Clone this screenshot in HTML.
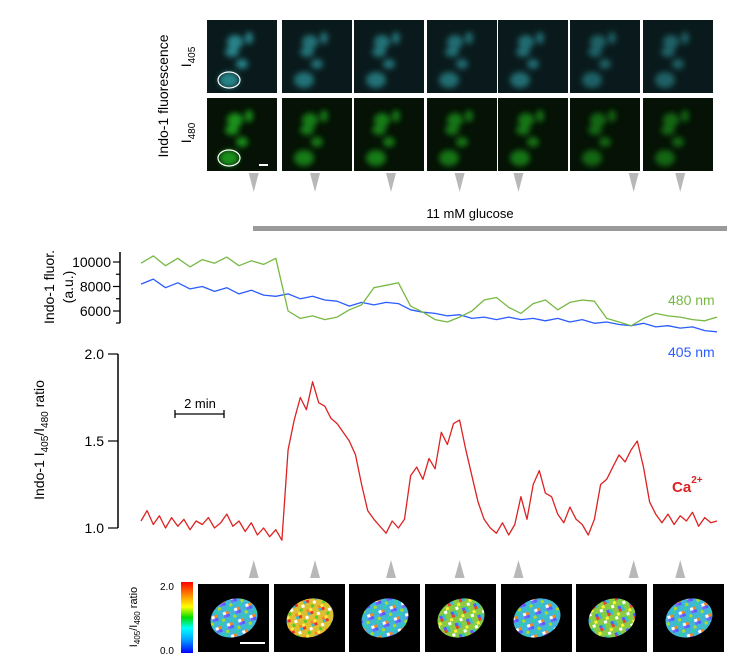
<!DOCTYPE html>
<html><head><meta charset="utf-8"><style>
body{margin:0;background:#fff;}
svg{display:block;font-family:"Liberation Sans",Arial,sans-serif;}
</style></head><body>
<svg id="fig" width="742" height="668" viewBox="0 0 742 668">
<defs>
 <filter id="blur" x="-50%" y="-50%" width="200%" height="200%"><feGaussianBlur stdDeviation="3"/></filter>
 <linearGradient id="jet" x1="0" y1="1" x2="0" y2="0">
  <stop offset="0" stop-color="#0000ff"/><stop offset="0.2" stop-color="#00aaff"/><stop offset="0.35" stop-color="#00ffff"/>
  <stop offset="0.5" stop-color="#00dd00"/><stop offset="0.65" stop-color="#ffff00"/><stop offset="0.82" stop-color="#ff8800"/><stop offset="1" stop-color="#ff0000"/>
 </linearGradient>
 <pattern id="speckA" width="12" height="12" patternUnits="userSpaceOnUse">
  <rect width="12" height="12" fill="#3fb8d8"/><rect x="0" y="0" width="3" height="3" fill="#5a5aff"/><rect x="6" y="3" width="3" height="3" fill="#aadd22"/><rect x="3" y="6" width="3" height="3" fill="#2fd0a0"/><rect x="9" y="9" width="3" height="3" fill="#ffffff"/><rect x="9" y="0" width="3" height="3" fill="#7766ff"/><rect x="0" y="9" width="3" height="3" fill="#ee8822"/>
 </pattern>
 <pattern id="speckB" width="12" height="12" patternUnits="userSpaceOnUse">
  <rect width="12" height="12" fill="#ddc030"/><rect x="0" y="0" width="3" height="3" fill="#ee3322"/><rect x="6" y="3" width="3" height="3" fill="#ffffff"/><rect x="3" y="6" width="3" height="3" fill="#55cc33"/><rect x="9" y="9" width="3" height="3" fill="#ff8822"/><rect x="9" y="0" width="3" height="3" fill="#3fb8d8"/><rect x="0" y="9" width="3" height="3" fill="#ffee44"/>
 </pattern>
 <pattern id="speckC" width="12" height="12" patternUnits="userSpaceOnUse">
  <rect width="12" height="12" fill="#88cc44"/><rect x="0" y="0" width="3" height="3" fill="#3fb8d8"/><rect x="6" y="3" width="3" height="3" fill="#ffee33"/><rect x="3" y="6" width="3" height="3" fill="#ffffff"/><rect x="9" y="9" width="3" height="3" fill="#5a5aff"/><rect x="9" y="0" width="3" height="3" fill="#ee4422"/><rect x="0" y="9" width="3" height="3" fill="#33ccaa"/>
 </pattern>
</defs>

<g id="topImages"></g>
<text x="168" y="96" transform="rotate(-90 168 96)" text-anchor="middle" font-size="14">Indo-1 fluorescence</text>
<text x="191" y="57" transform="rotate(-90 191 57)" text-anchor="middle" font-size="14">I<tspan font-size="10" dy="4">405</tspan></text>
<text x="191" y="133" transform="rotate(-90 191 133)" text-anchor="middle" font-size="14">I<tspan font-size="10" dy="4">480</tspan></text>

<g id="arrowsTop"></g>
<text x="470" y="218" text-anchor="middle" font-size="13">11 mM glucose</text>
<rect x="253" y="226" width="474" height="5" fill="#9a9a9a"/>

<g id="fluorChart"></g>
<text x="54" y="287" transform="rotate(-90 54 287)" text-anchor="middle" font-size="14">Indo-1 fluor.</text>
<text x="73" y="287" transform="rotate(-90 73 287)" text-anchor="middle" font-size="14">(a.u.)</text>
<text x="668" y="305" font-size="14" fill="#77b843">480 nm</text>
<text x="668" y="357" font-size="14" fill="#2a5cff">405 nm</text>

<g id="ratioChart"></g>
<text x="44" y="440" transform="rotate(-90 44 440)" text-anchor="middle" font-size="14">Indo-1 I<tspan font-size="10" dy="4">405</tspan><tspan dy="-4">/I</tspan><tspan font-size="10" dy="4">480</tspan><tspan dy="-4"> ratio</tspan></text>
<text x="200" y="408" text-anchor="middle" font-size="13">2 min</text>
<path d="M175 414H224M175 410V418M224 410V418" stroke="#000" stroke-width="1.3" fill="none"/>
<text x="672" y="492" font-size="15" font-weight="bold" fill="#dd2222">Ca<tspan font-size="10" dy="-9">2+</tspan></text>

<g id="arrowsBottom"></g>
<rect x="181" y="582" width="12" height="71" fill="url(#jet)"/>
<text x="160" y="590" font-size="10">2.0</text>
<text x="160" y="654" font-size="10">0.0</text>
<text x="137" y="617" transform="rotate(-90 137 617)" text-anchor="middle" font-size="11">I<tspan font-size="8" dy="3">405</tspan><tspan dy="-3">/I</tspan><tspan font-size="8" dy="3">480</tspan><tspan dy="-3"> ratio</tspan></text>
<g id="ratioImages"></g>
</svg>
<script>
// ---- data ----
const ratioStepMin = 0.25;
const ratioValues = [1.04,1.10,1.02,1.07,1.00,1.06,1.01,1.05,0.99,1.04,1.02,1.06,1.00,1.03,1.08,1.01,1.04,0.98,1.03,0.96,1.00,0.95,0.99,0.93,
1.45,1.62,1.75,1.68,1.84,1.72,1.70,1.63,1.60,1.55,1.50,1.42,1.25,1.10,1.05,1.01,0.97,1.04,1.00,1.05,
1.30,1.35,1.28,1.40,1.34,1.55,1.48,1.60,1.62,1.45,1.30,1.15,1.05,1.00,0.97,1.03,0.96,1.02,
1.18,1.05,1.25,1.33,1.20,1.18,1.08,1.03,1.12,1.05,1.02,0.96,1.05,
1.25,1.28,1.35,1.42,1.38,1.45,1.50,1.35,1.15,1.08,1.03,1.08,1.02,1.07,1.04,1.09,1.01,1.06,1.03,1.04];
const fluorStepMin = 0.5;
const fluor480 = [9900,10500,9700,10300,9600,10200,9900,10400,9700,10100,9800,10300,6000,5400,5600,5300,5500,6100,6500,7900,8100,8300,6400,5900,5300,5100,5500,6000,6900,7100,6300,5800,6600,6900,6100,6700,6900,6800,5400,5100,4800,5400,5800,5600,5500,5300,5200,5500];
const fluor405 = [8200,8600,7900,8300,7800,8000,7600,7900,7400,7700,7300,7200,7400,7000,7200,6900,6800,6400,6700,6500,6700,6600,6100,5900,5800,5600,5700,5400,5500,5300,5500,5300,5400,5200,5400,5100,5300,5000,5100,4900,4800,5000,4700,4800,4600,4700,4400,4300];
const fluorTicks = [6000,8000,10000];
const ratioTicks = [1.0,1.5,2.0];
const ratioTickLabels = ["1.0","1.5","2.0"];
const markerTimes = [4.6,7.1,10.2,13.0,15.4,20.1,22.0];

const NS="http://www.w3.org/2000/svg";
function mk(tag,attrs,parent){const e=document.createElementNS(NS,tag);for(const k in attrs)e.setAttribute(k,attrs[k]);parent.appendChild(e);return e;}
const totalMin = 23.5;
const xT = t => 141 + t/totalMin*576;
const yF = v => 262 - (v-10000)*0.01225;
const yR = v => 528 - (v-1.0)*174;

const fc=document.getElementById('fluorChart');
let ax=mk('path',{d:'M120 252V323',stroke:'#000','stroke-width':1.5,fill:'none'},fc);


[7000,9000].forEach(v=>{let m=mk('line',{x1:116,x2:120,y1:yF(v),y2:yF(v),stroke:'#000','stroke-width':1.2},fc);

});
mk('line',{x1:116,x2:120,y1:323,y2:323,stroke:'#000','stroke-width':1.2},fc);
fluorTicks.forEach(v=>{let t=mk('line',{x1:113,x2:120,y1:yF(v),y2:yF(v),stroke:'#000','stroke-width':1.2},fc);


let l=mk('text',{x:111,y:yF(v)+5,'text-anchor':'end','font-size':14},fc);l.textContent=String(v);

});
function line(arr,step,yf,color,name,parent){const pts=arr.map((v,i)=>xT(i*step).toFixed(1)+','+yf(v).toFixed(1)).join(' ');
const p=mk('polyline',{points:pts,fill:'none',stroke:color,'stroke-width':1.3,'stroke-linejoin':'round'},parent);

}
line(fluor405,fluorStepMin,yF,'#2a5cff','series-405nm',fc);
line(fluor480,fluorStepMin,yF,'#77b843','series-480nm',fc);

const rc=document.getElementById('ratioChart');
let ax2=mk('path',{d:'M118 354V528',stroke:'#000','stroke-width':1.5,fill:'none'},rc);


ratioTicks.forEach((v,i)=>{let t=mk('line',{x1:108,x2:118,y1:yR(v),y2:yR(v),stroke:'#000','stroke-width':1.2},rc);


let l=mk('text',{x:104,y:yR(v)+5,'text-anchor':'end','font-size':14},rc);l.textContent=ratioTickLabels[i];

});
line(ratioValues,ratioStepMin,yR,'#dd2222','series-ratio',rc);

const at=document.getElementById('arrowsTop'),ab=document.getElementById('arrowsBottom');
markerTimes.forEach(t=>{const x=xT(t);
let a=mk('path',{d:`M${x-5} 173L${x+5} 173L${x} 192Z`,fill:'#b8b8b8'},at);


let b=mk('path',{d:`M${x-5} 578L${x+5} 578L${x} 560Z`,fill:'#b8b8b8'},ab);

});

const ti=document.getElementById('topImages');
const panelX=[207,282,354,427,498,570,643];
const bright=[0.9,0.75,0.75,0.7,0.7,0.6,0.6];
const blobs=[[28,22,8,7],[42,18,4,6],[25,32,7,5],[35,44,6,5],[22,60,10,8]];
panelX.forEach((px,i)=>{
 [[20,'#0a1a1c','#2a9096'],[98,'#051205','#1ea01e']].forEach((r,j)=>{
  const g=mk('g',{},ti);
  
  
  mk('rect',{x:px,y:r[0],width:70,height:73,fill:r[1]},g);
  const bg=mk('g',{filter:'url(#blur)',opacity:bright[i]},g);
  blobs.forEach(b=>mk('ellipse',{cx:px+b[0],cy:r[0]+b[1],rx:b[2],ry:b[3],fill:r[2]},bg));
  if(i==0){mk('ellipse',{cx:px+22,cy:r[0]+60,rx:11,ry:8,fill:'none',stroke:'#fff','stroke-width':1.2},g);}
  if(i==0&&j==1){mk('rect',{x:px+52,y:r[0]+66,width:9,height:2,fill:'#fff'},g);}
 });
});

const ri=document.getElementById('ratioImages');
const rX=[198,274,349,425,501,576,653];
const rFill=['speckA','speckB','speckA','speckC','speckA','speckC','speckA'];
rX.forEach((px,i)=>{
 const g=mk('g',{},ri);
 
 
 mk('rect',{x:px,y:584,width:71,height:68,fill:'#000'},g);
 mk('ellipse',{cx:px+36,cy:618,rx:24,ry:19,fill:`url(#${rFill[i]})`,transform:`rotate(-20 ${px+36} 618)`},g);
 if(i==0) mk('rect',{x:px+42,y:642,width:25,height:2,fill:'#fff'},g);
});
</script>
</body></html>
